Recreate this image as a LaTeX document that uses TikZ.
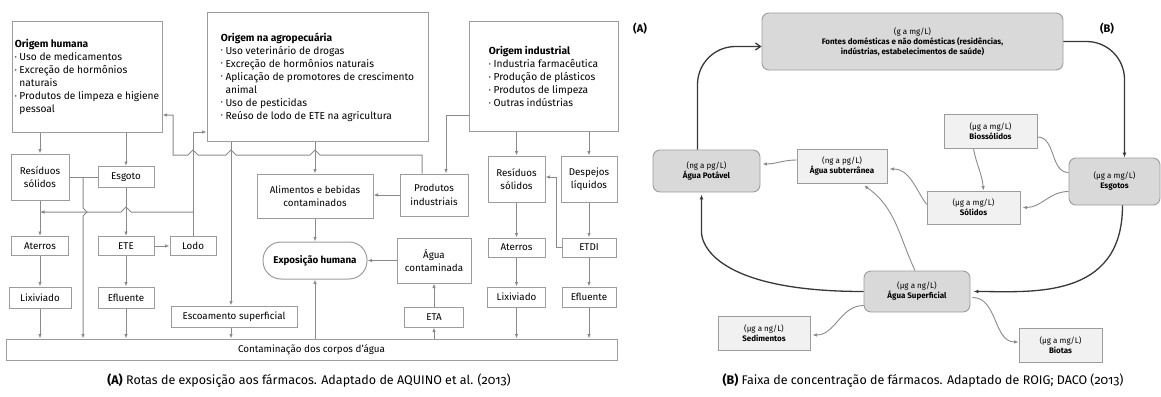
\documentclass[tikz,border=0pt]{standalone}
\usepackage{fontspec}
\setmainfont{Fira Sans}[Numbers=OldStyle]
\usetikzlibrary{arrows.meta, positioning, calc}

\definecolor{borda}{HTML}{9C9C9C}
\definecolor{linha}{HTML}{8A8A8A}
\definecolor{escura}{HTML}{383838}
\definecolor{cinza}{HTML}{D9D9D9}
\definecolor{clara}{HTML}{F1F1F1}

\newcommand{\itm}{\raisebox{0.25ex}{\scalebox{0.6}{\textbullet}}\ }
\newcommand{\rec}{\phantom{\scalebox{0.6}{\textbullet}}\ }

\begin{document}
\begin{tikzpicture}[x=1pt, y=-1pt,
        caixa/.style={rectangle, draw=borda, line width=1pt, fill=white, align=center, inner sep=1pt, font=\fontsize{9.8}{13.5}\selectfont},
        lista/.style={caixa, align=left, font=\fontsize{10.2}{13}\selectfont},
        seta/.style={-{Latex[length=4.5pt,width=3.5pt]}, draw=linha, line width=1pt},
        fio/.style={draw=linha, line width=1pt},
        faixa/.style={rectangle, rounded corners=7pt, draw=borda, fill=cinza, line width=0.9pt, align=center, font=\fontsize{8}{10}\selectfont},
        amostra/.style={faixa, sharp corners, fill=clara},
        grossa/.style={-{Latex[length=5pt,width=4pt]}, draw=escura, line width=1.3pt},
        fina/.style={-{Latex[length=4.5pt,width=3.5pt]}, draw=linha, line width=0.9pt}
    ]
        \useasboundingbox (0,0) rectangle (1161,396);

        % (A) rotas de exposicao
        \node[lista, minimum width=150, minimum height=110] (humana) at (87,77) {\textbf{Origem humana}\\ \itm Uso de medicamentos\\ \itm Excreção de hormônios\\ \rec naturais\\ \itm Produtos de limpeza e higiene\\ \rec pessoal};
        \node[lista, minimum width=221, minimum height=128] (agro) at (317.5,77) {\textbf{Origem na agropecuária}\\ \itm Uso veterinário de drogas\\ \itm Excreção de hormônios naturais\\ \itm Aplicação de promotores de crescimento\\ \rec animal\\ \itm Uso de pesticidas\\ \itm Reúso de lodo de ETE na agricultura};
        \node[lista, minimum width=149, minimum height=109] (indus) at (543.5,76.5) {\textbf{Origem industrial}\\ \itm Industria farmacêutica\\ \itm Produção de plásticos\\ \itm Produtos de limpeza\\ \itm Outras indústrias};
        \node[caixa, minimum width=58, minimum height=46] (ressolA) at (40,177) {Resíduos\\ sólidos};
        \node[caixa, minimum width=56, minimum height=21] (esgoto) at (126,177) {Esgoto};
        \node[caixa, minimum width=57, minimum height=19] (aterrosA) at (40,246) {Aterros};
        \node[caixa, minimum width=56, minimum height=19] (ete) at (126,246) {ETE};
        \node[caixa, minimum width=46, minimum height=19] (lodo) at (193,246) {Lodo};
        \node[caixa, minimum width=62, minimum height=21] (lixA) at (40,297.5) {Lixiviado};
        \node[caixa, minimum width=56, minimum height=21] (eflA) at (126,297.5) {Efluente};
        \node[caixa, minimum width=126, minimum height=21] (escoa) at (234,316.5) {Escoamento superficial};
        \node[caixa, minimum width=611, minimum height=21] (contam) at (311.5,349.5) {Contaminação dos corpos d'água};
        \node[caixa, minimum width=116, minimum height=44] (alim) at (315,196) {Alimentos e bebidas\\ contaminados};
        \node[caixa, minimum width=68, minimum height=42] (prod) at (434,195) {Produtos\\ industriais};
        \node[caixa, rounded corners=18pt, minimum width=104, minimum height=37] (expo) at (315,260.5) {\textbf{Exposição humana}};
        \node[caixa, minimum width=74, minimum height=45] (aguac) at (434,260.5) {Água\\ contaminada};
        \node[caixa, minimum width=59, minimum height=20] (eta) at (434,317) {ETA};
        \node[caixa, minimum width=57, minimum height=46] (ressolB) at (516.5,179) {Resíduos\\ sólidos};
        \node[caixa, minimum width=56, minimum height=46] (desp) at (589,179) {Despejos\\ líquidos};
        \node[caixa, minimum width=57, minimum height=19] (aterrosB) at (516.5,247.5) {Aterros};
        \node[caixa, minimum width=54, minimum height=19] (etdi) at (589,247.5) {ETDI};
        \node[caixa, minimum width=58, minimum height=20] (lixB) at (516.5,297) {Lixiviado};
        \node[caixa, minimum width=54, minimum height=20] (eflB) at (589,297) {Efluente};
        \node[font=\bfseries\fontsize{11}{13}\selectfont] (rotA) at (640,29) {(A)};

        \coordinate (h115) at (0,115);
        \coordinate (h132) at (0,132);
        \coordinate (h155) at (0,155);
        \coordinate (h212) at (0,212);
        \coordinate (v231) at (231,0);
        \coordinate (v422) at (422,0);
        \coordinate (v446) at (446,0);
        \coordinate (j1) at (83,177);

        \draw[seta] (humana.south -| ressolA.north) -- (ressolA.north);
        \draw[seta] (humana.south -| esgoto.north) -- (esgoto.north);
        \draw[fio] (ressolA.east) -- (esgoto.west);
        \draw[seta] (j1) -- ++(0,31) -- ++(4,4) -- ++(-4,4) -- (j1 |- contam.north);
        \draw[seta] (ressolA) -- (aterrosA);
        \draw[seta] (aterrosA) -- (lixA);
        \draw[seta] (lixA) -- (lixA.south |- contam.north);
        \draw[seta] (esgoto) -- (ete);
        \draw[seta] (ete) -- (eflA);
        \draw[seta] (eflA) -- (eflA.south |- contam.north);
        \draw[seta] (ete) -- (lodo);
        \draw[seta] (lodo.north) -- (lodo.north |- h132) -- (agro.west |- h132);
        \draw[seta] (lodo.north |- h212) -- (131,212) -- (126,207) -- (121,212) -- (ressolA.south |- h212);
        \draw[seta] (agro.south -| v231) -- (escoa.north -| v231);
        \draw[seta] (escoa.south -| v231) -- (contam.north -| v231);
        \draw[seta] (prod.north -| v422) -- (v422 |- h155) -- (320,155) -- (315,150) -- (310,155) -- (236,155) -- (231,150) -- (226,155) -- (198,155) -- (193,150) -- (188,155) -- (173,155) -- (173,115) -- (humana.east |- h115);
        \draw[seta] (indus.west |- h115) -- (v446 |- h115) -- (prod.north -| v446);
        \draw[seta] (agro.south -| alim.north) -- (alim.north);
        \draw[seta] (prod.west) -- (alim.east |- prod.west);
        \draw[seta] (alim) -- (expo);
        \draw[seta] (aguac) -- (expo);
        \draw[seta] (eta) -- (aguac);
        \draw[seta] (contam.north -| eta.south) -- (eta.south);
        \draw[seta] (contam.north -| expo.south) -- (expo.south);
        \draw[seta] (indus.south -| ressolB.north) -- (ressolB.north);
        \draw[seta] (indus.south -| desp.north) -- (desp.north);
        \draw[seta] (ressolB) -- (aterrosB);
        \draw[seta] (aterrosB) -- (lixB);
        \draw[seta] (lixB) -- (lixB.south |- contam.north);
        \draw[seta] (desp) -- (etdi);
        \draw[seta] (etdi) -- (eflB);
        \draw[seta] (eflB) -- (eflB.south |- contam.north);
        \draw[seta] (etdi.west) -- ++(-5,0) |- ([yshift=2pt]ressolB.east);

        % (B) faixas de concentracao
        \node[faixa, minimum width=301, minimum height=57] (fontes) at (912.5,41.5) {(g a mg/L)\\ \textbf{Fontes domésticas e não domésticas (residências,}\\ \textbf{indústrias, estabelecimentos de saúde)}};
        \node[faixa, minimum width=107, minimum height=42] (potavel) at (706.5,171) {(ng a pg/L)\\ \textbf{Água Potável}};
        \node[amostra, minimum width=90, minimum height=34] (subt) at (842,166) {(ng a pg/L)\\ \textbf{Água subterrânea}};
        \node[amostra, minimum width=93, minimum height=34] (bio) at (990.5,131) {(µg a mg/L)\\ \textbf{Biossólidos}};
        \node[amostra, minimum width=93, minimum height=33] (solidos) at (973.5,207.5) {(µg a mg/L)\\ \textbf{Sólidos}};
        \node[faixa, minimum width=91, minimum height=47] (esgotos) at (1114.5,181.5) {(µg a mg/L)\\ \textbf{Esgotos}};
        \node[faixa, minimum width=106, minimum height=41] (superf) at (917,291.5) {(µg a ng/L)\\ \textbf{Água Superficial}};
        \node[amostra, minimum width=92, minimum height=34] (sedim) at (764,333) {(µg a ng/L)\\ \textbf{Sedimentos}};
        \node[amostra, minimum width=83, minimum height=34] (biotas) at (1060.5,345) {(µg a mg/L)\\ \textbf{Biotas}};
        \node[font=\bfseries\fontsize{11}{13}\selectfont] (rotB) at (1107,29) {(B)};

        \draw[grossa, rounded corners=38pt] (fontes.east) -| ([xshift=10pt]esgotos.north);
        \draw[grossa] ([xshift=8pt]esgotos.south) .. controls ([xshift=8pt,yshift=-95pt]esgotos.south) and ($(superf.east)+(60,0)$) .. ([xshift=3pt]superf.east);
        \draw[grossa] (superf.west) .. controls ($(superf.west)+(-150,0)$) and ($(potavel.south)+(-5,50)$) .. ($(potavel.south)+(-5,40)$) -- ([xshift=-5pt,yshift=-2pt]potavel.south);
        \draw[grossa, -{Straight Barb[length=5pt,width=7pt]}, rounded corners=38pt] ([xshift=-9pt]potavel.north) |- ([yshift=-5pt]fontes.west);
        \draw[fina] ([yshift=6pt]subt.west) to[out=180, in=0] ([xshift=2pt,yshift=7pt]potavel.east);
        \draw[fina] ([yshift=3pt]solidos.west) to[out=125, in=0] ([xshift=2pt,yshift=-3pt]subt.east);
        \draw[fina] ([xshift=-2pt]superf.north) to[out=115, in=-35] ([xshift=22pt,yshift=-2pt]subt.south);
        \draw[fina] ([xshift=-17pt]bio.south) to[out=-80, in=95] ([xshift=10pt]solidos.north);
        \draw[draw=linha, line width=0.9pt] ([yshift=-6pt]bio.east) to[out=0, in=180] ([yshift=9pt]esgotos.west);
        \draw[fina] ([yshift=-10pt]esgotos.west) to[out=180, in=0] ([xshift=2pt]solidos.east);
        \draw[fina] ([yshift=-14pt]superf.west) to[out=180, in=0] ([xshift=2pt,yshift=-2pt]sedim.east);
        \draw[fina] ([xshift=2pt,yshift=-6pt]superf.east) to[out=0, in=180] ([yshift=3pt]biotas.west);

        % legendas
        \node[font=\fontsize{12.5}{14}\selectfont] (legA) at (309,381) {\textbf{(A)} Rotas de exposição aos fármacos. Adaptado de AQUINO et al. (2013)};
        \node[font=\fontsize{12.5}{14}\selectfont] (legB) at (923,381) {\textbf{(B)} Faixa de concentração de fármacos. Adaptado de ROIG; DACO (2013)};
    \end{tikzpicture}
\end{document}
